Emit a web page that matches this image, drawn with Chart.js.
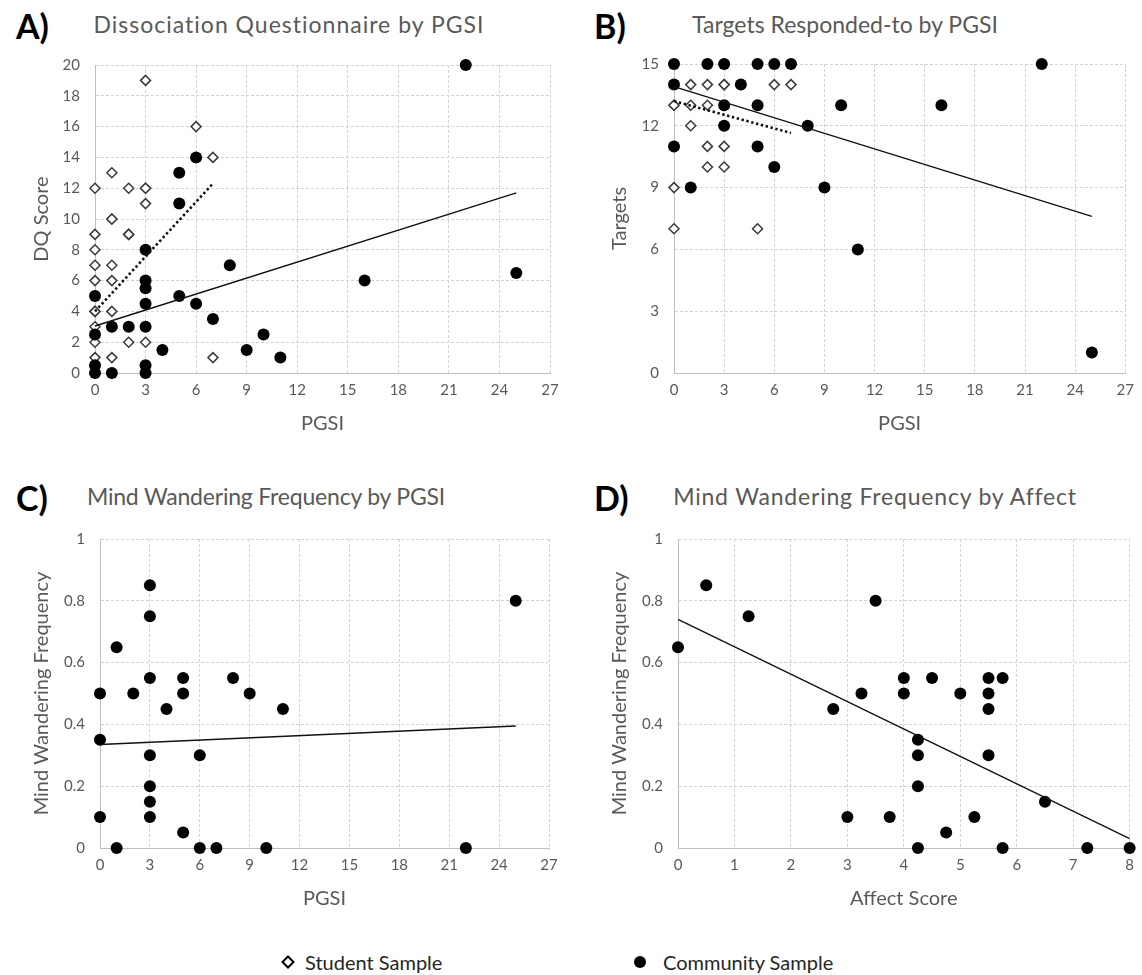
<!DOCTYPE html>
<html>
<head>
<meta charset="utf-8">
<script src="https://cdn.jsdelivr.net/npm/chart.js@4.4.1/dist/chart.umd.min.js"></script>
<style>
  body { margin: 0; background: #fff; width: 1142px; height: 975px; position: relative; overflow: hidden; font-family: Lato, sans-serif; }
  canvas { position: absolute; }
  .letter { position: absolute; font-weight: bold; font-size: 34px; line-height: 1; color: #000; }
  .title { position: absolute; font-size: 23px; line-height: 1; color: #595959; white-space: nowrap; transform: translateX(-50%); }
  .leg { position: absolute; font-size: 20px; line-height: 1; color: #262626; white-space: nowrap; }
</style>
</head>
<body>
<div class="letter" style="left:16px;top:9px">A)</div>
<div class="letter" style="left:594px;top:9px">B)</div>
<div class="letter" style="left:16px;top:481px">C)</div>
<div class="letter" style="left:594px;top:481px">D)</div>
<div class="title" style="left:289px;top:13px;letter-spacing:1px">Dissociation Questionnaire by PGSI</div>
<div class="title" style="left:845px;top:13px">Targets Responded-to by PGSI</div>
<div class="title" style="left:266px;top:485px;letter-spacing:-0.2px">Mind Wandering Frequency by PGSI</div>
<div class="title" style="left:875px;top:485px;letter-spacing:0.8px">Mind Wandering Frequency by Affect</div>

<canvas id="chartA" width="570" height="445" style="left:0;top:0"></canvas>
<canvas id="chartB" width="562" height="445" style="left:580px;top:0"></canvas>
<canvas id="chartC" width="570" height="450" style="left:0;top:470px"></canvas>
<canvas id="chartD" width="562" height="450" style="left:580px;top:470px"></canvas>

<svg style="position:absolute;left:281px;top:955px" width="14" height="14">
  <polygon points="7,1.5 12.5,7 7,12.5 1.5,7" fill="#fff" stroke="#000" stroke-width="2"/>
</svg>
<div class="leg" style="left:305px;top:952px">Student Sample</div>
<svg style="position:absolute;left:633px;top:955px" width="14" height="14">
  <circle cx="7" cy="7" r="6" fill="#000"/>
</svg>
<div class="leg" style="left:663px;top:952px">Community Sample</div>

<script>
// A) DQ score by PGSI
const dqStudentPgsi = [3, 6, 7, 1, 0, 2, 3, 3, 3, 1, 1, 0, 2, 2, 0, 0, 1, 0, 1, 0, 0, 1, 0, 0, 2, 3, 0, 1, 7];
const dqStudentScore = [19, 16, 14, 13, 12, 12, 12, 12, 11, 10, 10, 9, 9, 9, 8, 7, 7, 6, 6, 4, 4, 4, 3, 2, 2, 2, 1, 1, 1];
const dqCommunityPgsi = [22, 6, 5, 5, 3, 8, 25, 16, 3, 3, 0, 5, 3, 6, 7, 1, 2, 3, 0, 10, 4, 9, 11, 0, 3, 0, 1, 3];
const dqCommunityScore = [20, 14, 13, 11, 8, 7, 6.5, 6, 6, 5.5, 5, 5, 4.5, 4.5, 3.5, 3, 3, 3, 2.5, 2.5, 1.5, 1.5, 1, 0.5, 0.5, 0, 0, 0];
const dqStudentTrend = [[0, 4.0], [7, 12.3]];
const dqCommunityTrend = [[0, 3.05], [25, 11.7]];

// B) targets responded-to by PGSI
const tgStudentPgsi = [1, 2, 3, 3, 6, 7, 0, 0, 1, 2, 1, 2, 3, 2, 3, 0, 0, 5];
const tgStudentTargets = [14, 14, 14, 14, 14, 14, 13, 13, 13, 13, 12, 11, 11, 10, 10, 9, 7, 7];
const tgCommunityPgsi = [0, 2, 3, 5, 6, 7, 22, 0, 4, 3, 5, 10, 16, 3, 8, 0, 5, 6, 1, 9, 11, 25];
const tgCommunityTargets = [15, 15, 15, 15, 15, 15, 15, 14, 14, 13, 13, 13, 13, 12, 12, 11, 11, 10, 9, 9, 6, 1];
const tgStudentTrend = [[0, 13.2], [7, 11.65]];
const tgCommunityTrend = [[0, 13.9], [25, 7.6]];

// C) mind wandering by PGSI (community only)
const mwPgsi = [3, 3, 1, 3, 5, 8, 0, 2, 5, 9, 4, 11, 0, 3, 6, 3, 3, 3, 0, 5, 1, 6, 7, 10, 22, 25];
const mwFreqC = [0.85, 0.75, 0.65, 0.55, 0.55, 0.55, 0.5, 0.5, 0.5, 0.5, 0.45, 0.45, 0.35, 0.3, 0.3, 0.2, 0.15, 0.1, 0.1, 0.05, 0, 0, 0, 0, 0, 0.8];
const mwPgsiTrend = [[0, 0.335], [25, 0.395]];

// D) mind wandering by affect (community only)
const affectScore = [0, 0.5, 1.25, 3.5, 2.75, 3.25, 4, 4, 4.5, 5, 5.5, 5.5, 5.5, 5.75, 4.25, 4.25, 4.25, 5.5, 3, 3.75, 5.25, 4.75, 4.25, 5.75, 6.5, 7.25, 8];
const mwFreqD = [0.65, 0.85, 0.75, 0.8, 0.45, 0.5, 0.55, 0.5, 0.55, 0.5, 0.55, 0.5, 0.45, 0.55, 0.35, 0.3, 0.2, 0.3, 0.1, 0.1, 0.1, 0.05, 0, 0, 0.15, 0, 0];
const mwAffectTrend = [[0, 0.74], [8, 0.03]];

Chart.defaults.font.family = 'Lato, sans-serif';
Chart.defaults.color = '#595959';

const toPts = (xs, ys) => xs.map((x, i) => ({ x: x, y: ys[i] }));
const trendPts = (t) => t.map(p => ({ x: p[0], y: p[1] }));

const studentStyle = {
  pointStyle: 'rectRot', pointRadius: 5, pointHoverRadius: 5, clip: false,
  pointBorderColor: '#3a3a3a', pointBorderWidth: 1.5, pointBackgroundColor: '#fff', showLine: false
};
const communityStyle = {
  pointStyle: 'circle', pointRadius: 6, pointHoverRadius: 6, clip: false,
  pointBorderColor: '#000', pointBorderWidth: 0, pointBackgroundColor: '#000', showLine: false
};
const solidTrend = { showLine: true, pointRadius: 0, borderColor: '#111', borderWidth: 1.4, fill: false, clip: false };
const dottedTrend = { showLine: true, pointRadius: 0, borderColor: '#111', borderWidth: 2.6, borderDash: [2.4, 2.6], fill: false, clip: false };

function panel(id, datasets, s) {
  return new Chart(document.getElementById(id), {
    type: 'scatter',
    data: { datasets: datasets },
    options: {
      responsive: false,
      animation: false,
      layout: { padding: s.pad },
      plugins: { legend: { display: false }, tooltip: { enabled: false } },
      scales: {
        x: {
          type: 'linear', min: s.xMin, max: s.xMax,
          ticks: { stepSize: s.xStep, padding: 8, font: { size: 15 } },
          grid: { color: '#d3d3d3', drawTicks: false },
          border: { color: '#bfbfbf', dash: [3, 2] },
          title: { display: true, text: s.xTitle, font: { size: 20 }, padding: { top: 0, bottom: 9 } },
          afterFit: (scale) => { scale.height = 72; }
        },
        y: {
          type: 'linear', min: s.yMin, max: s.yMax,
          ticks: { stepSize: s.yStep, padding: 15, font: { size: 15 }, callback: (v) => String(Math.round(v * 10) / 10) },
          grid: { color: '#d3d3d3', drawTicks: false },
          border: { color: '#bfbfbf', dash: [3, 2] },
          title: { display: true, text: s.yTitle, font: { size: 20 }, padding: { top: s.yTitlePad, bottom: 0 } },
          afterFit: (scale) => { scale.width = s.yWidth; }
        }
      }
    }
  });
}

panel('chartA', [
  Object.assign({ label: 'Community trend', data: trendPts(dqCommunityTrend) }, solidTrend),
  Object.assign({ label: 'Student trend', data: trendPts(dqStudentTrend) }, dottedTrend),
  Object.assign({ label: 'Community Sample', data: toPts(dqCommunityPgsi, dqCommunityScore) }, communityStyle),
  Object.assign({ label: 'Student Sample', data: toPts(dqStudentPgsi, dqStudentScore) }, studentStyle)
], { pad: { left: 20, top: 65, right: 20, bottom: 0 }, xMin: 0, xMax: 27, xStep: 3, yMin: 0, yMax: 20, yStep: 2,
     xTitle: 'PGSI', yTitle: 'DQ Score', yWidth: 75, yTitlePad: 10 });

panel('chartB', [
  Object.assign({ label: 'Community trend', data: trendPts(tgCommunityTrend) }, solidTrend),
  Object.assign({ label: 'Student trend', data: trendPts(tgStudentTrend) }, dottedTrend),
  Object.assign({ label: 'Community Sample', data: toPts(tgCommunityPgsi, tgCommunityTargets) }, communityStyle),
  Object.assign({ label: 'Student Sample', data: toPts(tgStudentPgsi, tgStudentTargets) }, studentStyle)
], { pad: { left: 20, top: 64, right: 15, bottom: 0 }, xMin: 0, xMax: 27, xStep: 3, yMin: 0, yMax: 15, yStep: 3,
     xTitle: 'PGSI', yTitle: 'Targets', yWidth: 74, yTitlePad: 8 });

panel('chartC', [
  Object.assign({ label: 'Community trend', data: trendPts(mwPgsiTrend) }, solidTrend),
  Object.assign({ label: 'Community Sample', data: toPts(mwPgsi, mwFreqC) }, communityStyle)
], { pad: { left: 20, top: 69, right: 21, bottom: 0 }, xMin: 0, xMax: 27, xStep: 3, yMin: 0, yMax: 1, yStep: 0.2,
     xTitle: 'PGSI', yTitle: 'Mind Wandering Frequency', yWidth: 80, yTitlePad: 10 });

panel('chartD', [
  Object.assign({ label: 'Community trend', data: trendPts(mwAffectTrend) }, solidTrend),
  Object.assign({ label: 'Community Sample', data: toPts(affectScore, mwFreqD) }, communityStyle)
], { pad: { left: 20, top: 69, right: 9, bottom: 0 }, xMin: 0, xMax: 8, xStep: 1, yMin: 0, yMax: 1, yStep: 0.2,
     xTitle: 'Affect Score', yTitle: 'Mind Wandering Frequency', yWidth: 78, yTitlePad: 8 });
</script>
</body>
</html>
